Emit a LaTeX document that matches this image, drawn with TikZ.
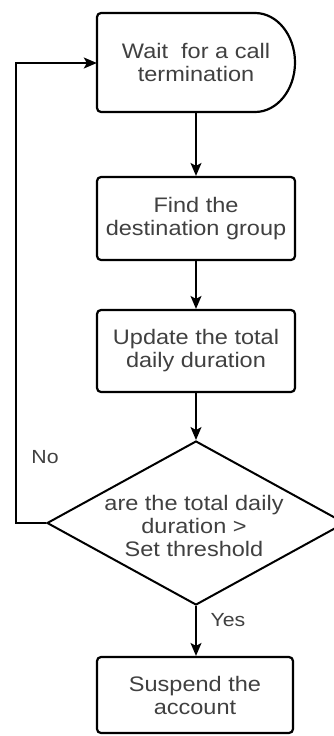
\documentclass[tikz,border=0pt]{standalone}
\usepackage{fontspec}
\setmainfont[FakeStretch=1.12]{Liberation Sans}
\usetikzlibrary{shapes.geometric,arrows.meta}
\definecolor{txt}{HTML}{404040}
\begin{document}
\begin{tikzpicture}[x=1pt,y=-1pt,
  every node/.style={font=\fontsize{21}{23}\selectfont, text=txt, align=center},
  stepbox/.style={draw, line width=2.2pt, rounded corners=4pt, minimum width=198pt, inner sep=0pt},
  conn/.style={line width=1.4pt, -{Stealth[length=13pt,width=11pt,inset=3pt]}},
  lbl/.style={font=\fontsize{19}{21}\selectfont, text=txt}]
\useasboundingbox (0,0) rectangle (334,736);
% start (delay shape)
\node[minimum width=198pt, minimum height=99pt, inner sep=0pt] (b1) at (196,62.5) {Wait\ \ for a call\\termination};
\draw[line width=2.2pt, rounded corners=4pt] (255,13) -- (97,13) -- (97,112) -- (255,112);
\draw[line width=2.2pt] (255,112) arc[start angle=-90, end angle=90, x radius=40pt, y radius=49.5pt];
\node[stepbox, minimum height=83pt] (b2) at (196,218.5) {Find the\\destination group};
\node[stepbox, minimum height=82pt] (b3) at (196,351) {Update the total\\daily duration};
\node[draw, diamond, line width=2pt, minimum width=298pt, minimum height=164pt, inner sep=0pt] (d) at (196,523) {};
\node (dt) at (194,526) {are the total daily\\duration >\\Set threshold};
\node[stepbox, minimum width=196pt, minimum height=76pt] (b4) at (195,695) {Suspend the\\account};
\coordinate (c1) at (16,523);
\coordinate (c2) at (16,63);
\draw[conn] (b1.south) -- (b2.north);
\draw[conn] (b2.south) -- (b3.north);
\draw[conn] (b3.south) -- (d.north);
\draw[conn] (d.south) -- (b4.north -| d.south);
\draw[conn] (d.west) -- (c1) -- (c2) -- (b1.west |- c2);
\node[lbl] (no) at (45,457) {No};
\node[lbl] (yes) at (228,620) {Yes};
\end{tikzpicture}
\end{document}
